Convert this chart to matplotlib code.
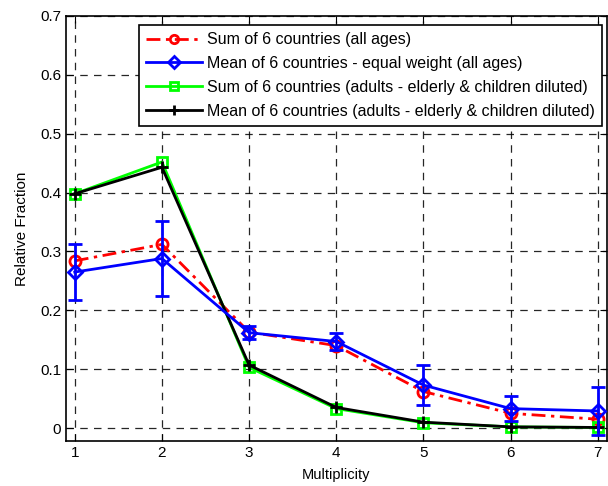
import numpy as np
import matplotlib
matplotlib.use('Agg')
import matplotlib.pyplot as plt
from matplotlib.lines import Line2D

plt.rcParams['font.family'] = ['Liberation Sans', 'DejaVu Sans']

# Data
multiplicity = [1, 2, 3, 4, 5, 6, 7]
sum_all = [0.284, 0.312, 0.163, 0.140, 0.062, 0.025, 0.015]
mean_all = [0.265, 0.288, 0.162, 0.147, 0.073, 0.033, 0.029]
mean_all_err = [0.048, 0.063, 0.011, 0.015, 0.034, 0.021, 0.041]
sum_adults = [0.398, 0.452, 0.103, 0.033, 0.009, 0.002, 0.001]
mean_adults = [0.398, 0.443, 0.107, 0.035, 0.010, 0.002, 0.001]

labels = ['Sum of 6 countries (all ages)',
          'Mean of 6 countries - equal weight (all ages)',
          'Sum of 6 countries (adults - elderly & children diluted)',
          'Mean of 6 countries (adults - elderly & children diluted)']

fig = plt.figure(figsize=(6.08, 4.86), dpi=100)
ax = fig.add_axes([0.1086, 0.0926, 0.889, 0.8745])

red_style = dict(color='red', linestyle=(0, (5, 2, 1.2, 2)), linewidth=2,
                 marker='o', markersize=8, markerfacecolor='none', markeredgewidth=2)
blue_style = dict(color='blue', linewidth=2, marker='D', markersize=7,
                  markerfacecolor='none', markeredgewidth=2)
green_style = dict(color='#00ff00', linewidth=2, marker='s', markersize=7,
                   markerfacecolor='none', markeredgewidth=2)
black_style = dict(color='black', linewidth=2, marker='+', markersize=8,
                   markeredgewidth=2)

ax.plot(multiplicity, sum_all, zorder=3, **red_style)
ax.errorbar(multiplicity, mean_all, yerr=mean_all_err, capsize=5, capthick=2,
            elinewidth=2, zorder=4, **blue_style)
ax.plot(multiplicity, sum_adults, zorder=3, **green_style)
ax.plot(multiplicity, mean_adults, zorder=3, **black_style)

ax.set_xlim(0.9, 7.1)
ax.set_ylim(-0.022, 0.7)
ax.set_xticks(multiplicity)
ax.set_yticks(np.arange(0, 0.71, 0.1))
ax.set_yticklabels(['0', '0.1', '0.2', '0.3', '0.4', '0.5', '0.6', '0.7'])
ax.tick_params(direction='in', labelsize=11, length=5, top=True, right=True)
ax.grid(True, color='black', linestyle=(0, (6, 5)), linewidth=0.9, alpha=0.85)
for s in ax.spines.values():
    s.set_linewidth(1.2)

ax.set_xlabel('Multiplicity', fontsize=10.5, labelpad=6)
ax.set_ylabel('Relative Fraction', fontsize=11, labelpad=8)

handles = [Line2D([], [], **{**red_style, 'markersize': 6}),
           Line2D([], [], **{**blue_style, 'markersize': 6}),
           Line2D([], [], **{**green_style, 'markersize': 6}),
           Line2D([], [], **{**black_style, 'markersize': 7})]
leg = ax.legend(handles, labels, loc='upper right', fontsize=11.5, fancybox=False,
                framealpha=1, edgecolor='black', handlelength=3.5, handletextpad=0.3,
                borderaxespad=0.3, labelspacing=0.55, borderpad=0.45,
                bbox_to_anchor=(1.0, 0.99))
leg.get_frame().set_linewidth(1.2)

fig.savefig('out.png', dpi=100)
